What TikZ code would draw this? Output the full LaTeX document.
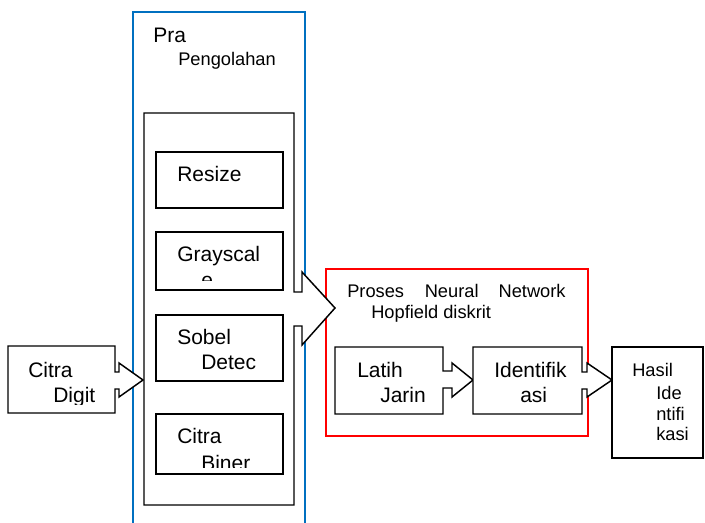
\documentclass[tikz,border=0pt]{standalone}
\usepackage{fontspec}
\setmainfont{Liberation Sans}

\begin{document}
\begin{tikzpicture}[x=0.75pt,y=0.75pt,yscale=-1,xscale=1,
  lbl/.style={anchor=base west,inner sep=0pt,font=\fontsize{15.75}{19}\selectfont},
  sml/.style={anchor=base west,inner sep=0pt,font=\fontsize{13.7}{16}\selectfont},
  box/.style={line width=1.1,fill=white}]
        \useasboundingbox (0,0) rectangle (705,523);
        % pra pengolahan frame (runs off the bottom)
        \draw  [color={rgb, 255:red, 0; green, 112; blue, 192 }  ,line width=1.1] (133,523) -- (133,12) -- (305,12) -- (305,523) ;
        % neural network frame
        \draw  [color={rgb, 255:red, 255; green, 0; blue, 0 }  ,line width=1.1] (326,269) -- (588,269) -- (588,436) -- (326,436) -- cycle ;
        % callouts
        \draw  [box] (8,346) -- (115,346) -- (115,372) -- (119,372) -- (119,363) -- (143,380) -- (119,397) -- (119,389) -- (115,389) -- (115,413) -- (8,413) -- cycle ;
        \draw  [box] (144,113) -- (294,113) -- (294,292) -- (302,292) -- (302,272) -- (335,308) -- (302,345) -- (302,326) -- (294,326) -- (294,505) -- (144,505) -- cycle ;
        \draw  [box] (335,347) -- (443,347) -- (443,371) -- (452,371) -- (452,363) -- (473,380) -- (452,397) -- (452,388) -- (443,388) -- (443,414) -- (335,414) -- cycle ;
        \draw  [box] (473,347) -- (582,347) -- (582,372) -- (587,372) -- (587,363) -- (612,380) -- (587,397) -- (587,389) -- (582,389) -- (582,414) -- (473,414) -- cycle ;
        % inner steps
        \draw  [box] (156,152) rectangle (283,208) ;
        \draw  [box] (156,232) rectangle (283,290) ;
        \draw  [box] (156,315) rectangle (283,381) ;
        \draw  [box] (156,414) rectangle (283,474) ;
        \draw  [box] (612,347) rectangle (703,458) ;
        % texts
        \draw (153,43) node [lbl] (pra) {Pra};
        \draw (178,66) node [sml] (pengolahan) {Pengolahan};
        \draw (28,377) node [lbl] (citra) {Citra};
        \begin{scope}
          \clip (8,346) rectangle (115,404);
          \draw (53,402) node [lbl] (digit) {Digit};
        \end{scope}
        \draw (177,182) node [lbl] (resize) {Resize};
        \draw (177,262) node [lbl] (grayscal) {Grayscal};
        \begin{scope}
          \clip (156,232) rectangle (283,281);
          \draw (201,287) node [lbl] (grayE) {e};
        \end{scope}
        \draw (177,344) node [lbl] (sobel) {Sobel};
        \draw (201,369) node [lbl] (detec) {Detec};
        \draw (177,443) node [lbl] (citraB) {Citra};
        \begin{scope}
          \clip (156,414) rectangle (283,467);
          \draw (201,470) node [lbl] (biner) {Biner};
        \end{scope}
        \draw (347,297) node [sml] (proses) {Proses\hspace{15.5pt}Neural\hspace{15pt}Network};
        \draw (371,319) node [sml] (hopfield) {Hopfield diskrit};
        \draw (357,377) node [lbl] (latih) {Latih};
        \draw (380,402) node [lbl] (jarin) {Jarin};
        \draw (494,377) node [lbl] (identifik) {Identifik};
        \draw (520,402) node [lbl] (asi) {asi};
        \draw (632,376) node [sml] (hasil) {Hasil};
        \draw (656,399) node [sml] (ide) {Ide};
        \draw (656,420) node [sml] (ntifi) {ntifi};
        \draw (656,440) node [sml] (kasi) {kasi};
\end{tikzpicture}
\end{document}
